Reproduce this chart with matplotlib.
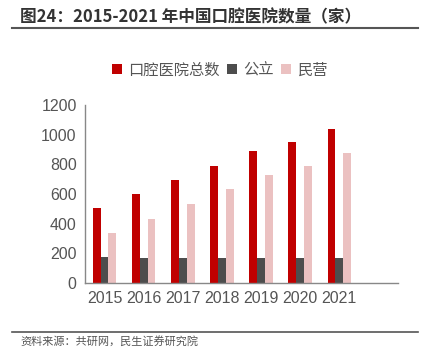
import numpy as np
import matplotlib
matplotlib.use('Agg')
import matplotlib.pyplot as plt

plt.rcParams['font.family'] = ['Noto Sans CJK SC', 'DejaVu Sans']

years = ['2015', '2016', '2017', '2018', '2019', '2020', '2021']
total = [506, 600, 695, 792, 890, 951, 1041]
public = [173, 171, 168, 166, 166, 168, 166]
private = [335, 431, 532, 632, 729, 788, 877]

W, H = 426, 348
fig = plt.figure(figsize=(W / 100, H / 100), dpi=100)
ax = fig.add_axes([85 / W, 65 / H, 313 / W, 178 / H])

x = np.arange(len(years))
bw = 0.2
ax.bar(x - bw, total, bw, color='#C00000', label='口腔医院总数')
ax.bar(x, public, bw, color='#4D4D4D', label='公立')
ax.bar(x + bw, private, bw, color='#EBC1C1', label='民营')

ax.set_xlim(-0.5, 7.5)
ax.set_ylim(0, 1200)
ax.set_yticks(range(0, 1201, 200))
ax.set_xticks(x)
ax.set_xticklabels(years)
for s in ['top', 'right']:
    ax.spines[s].set_visible(False)
for s in ['left', 'bottom']:
    ax.spines[s].set_color('#888888')
    ax.spines[s].set_linewidth(1.0)
ax.tick_params(length=0, labelsize=11.5, labelcolor='#555555', pad=6)
for lab in ax.get_xticklabels() + ax.get_yticklabels():
    lab.set_family('Liberation Sans')

fig.legend(loc='center', bbox_to_anchor=(220 / W, 1 - 70 / H), ncol=3,
           frameon=False, fontsize=11, handlelength=0.65, handleheight=0.65,
           handletextpad=0.4, columnspacing=0.5, labelcolor='#555555')

fig.text(20 / W, 1 - 17 / H, '图24：2015-2021 年中国口腔医院数量（家）',
         fontsize=12, fontweight='bold', color='#333333', va='center', ha='left')
fig.add_artist(plt.Line2D([12 / W, 418 / W], [1 - 28 / H, 1 - 28 / H], color='#555555', lw=1.5))
fig.add_artist(plt.Line2D([12 / W, 418 / W], [1 - 332 / H, 1 - 332 / H], color='#555555', lw=1.2))
fig.text(20 / W, 1 - 341 / H, '资料来源：共研网，民生证券研究院',
         fontsize=8, color='#555555', va='center', ha='left')

fig.savefig('out.png', dpi=100)
